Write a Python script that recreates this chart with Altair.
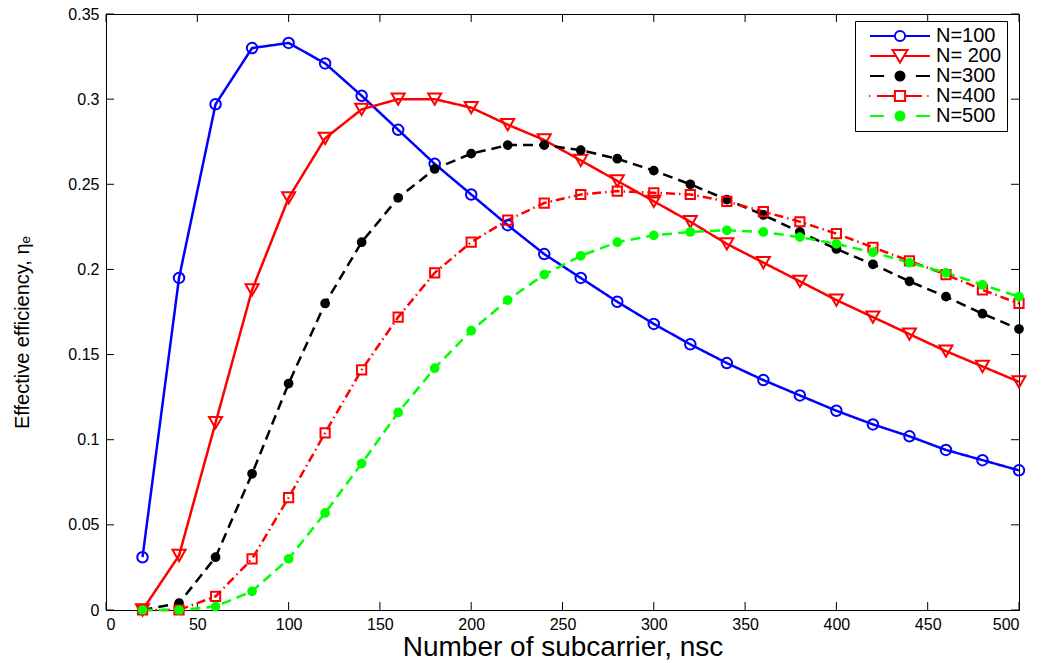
import altair as alt
import pandas as pd

# Number of subcarriers (x) and effective efficiency for each N
nsc = [20, 40, 60, 80, 100, 120, 140, 160, 180, 200, 220, 240, 260,
       280, 300, 320, 340, 360, 380, 400, 420, 440, 460, 480, 500]

eta_100 = [0.031, 0.195, 0.297, 0.330, 0.333, 0.321, 0.302, 0.282, 0.262, 0.244,
           0.226, 0.209, 0.195, 0.181, 0.168, 0.156, 0.145, 0.135, 0.126, 0.117,
           0.109, 0.102, 0.094, 0.088, 0.082]
eta_200 = [0.000, 0.032, 0.110, 0.188, 0.242, 0.277, 0.294, 0.300, 0.300, 0.295,
           0.285, 0.276, 0.264, 0.252, 0.240, 0.228, 0.215, 0.204, 0.193, 0.182,
           0.172, 0.162, 0.152, 0.143, 0.134]
eta_300 = [0.000, 0.004, 0.031, 0.080, 0.133, 0.180, 0.216, 0.242, 0.259, 0.268,
           0.273, 0.273, 0.270, 0.265, 0.258, 0.250, 0.241, 0.232, 0.222, 0.212,
           0.203, 0.193, 0.184, 0.174, 0.165]
eta_400 = [0.000, 0.000, 0.008, 0.030, 0.066, 0.104, 0.141, 0.172, 0.198, 0.216,
           0.229, 0.239, 0.244, 0.246, 0.245, 0.244, 0.240, 0.234, 0.228, 0.221,
           0.213, 0.205, 0.197, 0.188, 0.180]
eta_500 = [0.000, 0.000, 0.002, 0.011, 0.030, 0.057, 0.086, 0.116, 0.142, 0.164,
           0.182, 0.197, 0.208, 0.216, 0.220, 0.222, 0.223, 0.222, 0.219, 0.215,
           0.210, 0.204, 0.198, 0.191, 0.184]

series_names = ["N=100", "N= 200", "N=300", "N=400", "N=500"]
series_values = [eta_100, eta_200, eta_300, eta_400, eta_500]

x_ticks = [0, 50, 100, 150, 200, 250, 300, 350, 400, 450, 500]
y_ticks = [0, 0.05, 0.1, 0.15, 0.2, 0.25, 0.3, 0.35]

# Styling per series
stroke_colors = ["#0000ff", "#ff0000", "#000000", "#ff0000", "#00ff00"]
fill_colors = ["transparent", "transparent", "#000000", "transparent", "#00ff00"]
dashes = [[1, 0], [1, 0], [10, 6], [9, 4, 1.5, 4], [10, 6]]
marker_shapes = ["circle", "triangle-down", "circle", "square", "circle"]
marker_sizes = [110, 170, 60, 85, 60]

# Legend glyphs: line pieces with the series marker in the middle (1 unit = 30 px)
legend_glyphs = [
    "M-0.7,0L0.13,0M0.47,0L1.3,0M0.13,0A0.17,0.17,0,1,0,0.47,0A0.17,0.17,0,1,0,0.13,0",
    "M-0.7,0L0.18,0M0.42,0L1.3,0M0.05,-0.2L0.55,-0.2L0.3,0.22Z",
    "M-0.7,0L-0.23,0M0.83,0L1.3,0M0.15,0A0.15,0.15,0,1,0,0.45,0A0.15,0.15,0,1,0,0.15,0",
    "M-0.73,0L-0.69,0M-0.47,0L0.13,0M0.47,0L1.03,0M1.21,0L1.25,0M0.13,-0.17L0.47,-0.17L0.47,0.17L0.13,0.17Z",
    "M-0.7,0L-0.23,0M0.83,0L1.3,0M0.15,0A0.15,0.15,0,1,0,0.45,0A0.15,0.15,0,1,0,0.15,0",
]

rows = []
for name, vals, msize in zip(series_names, series_values, marker_sizes):
    for x, v in zip(nsc, vals):
        rows.append({"nsc": x, "eta": v, "series": name, "msize": msize})
df = pd.DataFrame(rows)

W, H = 913, 596
TICK = 8
FONT = "Liberation Sans"

x_enc = alt.X("nsc:Q", scale=alt.Scale(domain=[0, 500], nice=False),
              axis=alt.Axis(values=x_ticks, title="Number of subcarrier, nsc",
                            ticks=False, grid=False, labelPadding=6,
                            titleFontSize=28, titlePadding=1))
y_enc = alt.Y("eta:Q", scale=alt.Scale(domain=[0, 0.35], nice=False),
              axis=alt.Axis(values=y_ticks, format=".2~f",
                            title="Effective efficiency, ηₑ",
                            ticks=False, grid=False, labelPadding=7,
                            titleFontSize=20, titlePadding=35,
                            titleY=H / 2 + 20))

series_scale = dict(domain=series_names)

lines = alt.Chart(df).mark_line(strokeWidth=2.5).encode(
    x=x_enc, y=y_enc,
    stroke=alt.Stroke("series:N", scale=alt.Scale(range=stroke_colors, **series_scale), legend=None),
    strokeDash=alt.StrokeDash("series:N", scale=alt.Scale(range=dashes, **series_scale), legend=None),
    order=alt.Order("nsc:Q"),
)

points = alt.Chart(df).mark_point(strokeWidth=2, opacity=1).encode(
    x="nsc:Q", y="eta:Q",
    stroke=alt.Stroke("series:N", scale=alt.Scale(range=stroke_colors, **series_scale), legend=None),
    fill=alt.Fill("series:N", scale=alt.Scale(range=fill_colors, **series_scale), legend=None),
    shape=alt.Shape("series:N", scale=alt.Scale(range=marker_shapes, **series_scale), legend=None),
    size=alt.Size("msize:Q", scale=None),
)

legend_def = alt.Legend(
    title=None, orient="none", legendX=749, legendY=7,
    strokeColor="black", fillColor="white", padding=5,
    symbolSize=3600, symbolStrokeWidth=2, labelFont=FONT, labelFontSize=20,
    labelOffset=14, rowPadding=0, clipHeight=20,
)

legend_layer = alt.Chart(df).transform_filter("datum.nsc < 0").mark_point(
    strokeWidth=2, opacity=1
).encode(
    x="nsc:Q", y="eta:Q",
    stroke=alt.Stroke("series:N", scale=alt.Scale(range=stroke_colors, **series_scale), legend=legend_def),
    fill=alt.Fill("series:N", scale=alt.Scale(range=fill_colors, **series_scale), legend=legend_def),
    shape=alt.Shape("series:N", scale=alt.Scale(range=legend_glyphs, **series_scale), legend=legend_def),
)

# Inward tick marks on all four sides of the box
xt = pd.DataFrame({"nsc": x_ticks})
yt = pd.DataFrame({"eta": y_ticks})
tick_style = dict(color="black", strokeWidth=1)
bottom_ticks = alt.Chart(xt).mark_rule(**tick_style).encode(
    x="nsc:Q", y=alt.value(H), y2=alt.value(H - TICK))
top_ticks = alt.Chart(xt).mark_rule(**tick_style).encode(
    x="nsc:Q", y=alt.value(0), y2=alt.value(TICK))
left_ticks = alt.Chart(yt).mark_rule(**tick_style).encode(
    y="eta:Q", x=alt.value(0), x2=alt.value(TICK))
right_ticks = alt.Chart(yt).mark_rule(**tick_style).encode(
    y="eta:Q", x=alt.value(W), x2=alt.value(W - TICK))

chart = alt.layer(
    bottom_ticks, top_ticks, left_ticks, right_ticks, lines, points, legend_layer
).resolve_scale(
    stroke="independent", fill="independent", shape="independent",
    strokeDash="independent",
).resolve_legend(
    stroke="independent", fill="independent", shape="independent",
    strokeDash="independent",
).properties(
    width=W, height=H,
    autosize=alt.AutoSizeParams(type="none"),
    padding={"left": 106, "top": 14, "right": 22, "bottom": 53},
    background="white",
).configure_view(
    stroke="black", strokeWidth=1,
).configure_axis(
    domainColor="black", domainWidth=1,
    labelFont=FONT, labelFontSize=16, labelColor="black",
    titleFont=FONT, titleFontWeight="normal", titleColor="black",
)

chart.save("out.html", embed_options={"renderer": "svg", "actions": False})
